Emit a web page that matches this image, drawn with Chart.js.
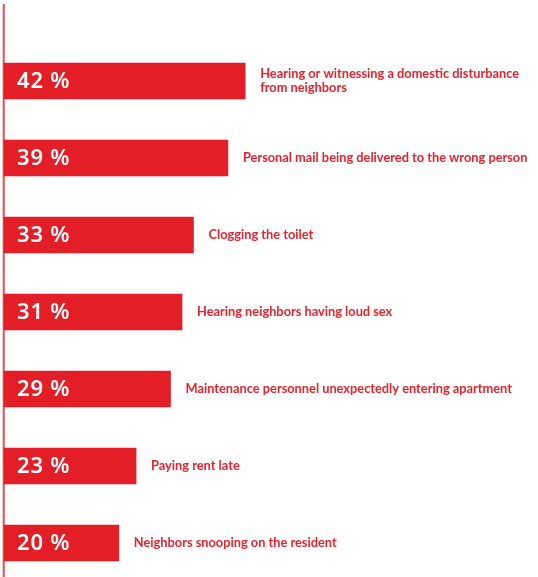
<!DOCTYPE html>
<html>
<head>
<meta charset="utf-8">
<script src="https://cdn.jsdelivr.net/npm/chart.js@4/dist/chart.umd.min.js"></script>
<style>
html,body{margin:0;padding:0;background:#fff;overflow:hidden;}
#wrap{width:538px;height:577px;position:relative;}
</style>
</head>
<body>
<div id="wrap"><canvas id="c"></canvas></div>
<script>
const categories = [
  ["Hearing or witnessing a domestic disturbance", "from neighbors"],
  ["Personal mail being delivered to the wrong person"],
  ["Clogging the toilet"],
  ["Hearing neighbors having loud sex"],
  ["Maintenance personnel unexpectedly entering apartment"],
  ["Paying rent late"],
  ["Neighbors snooping on the resident"]
];
const values = [42, 39, 33, 31, 29, 23, 20];
const valueLabels = ["42 %", "39 %", "33 %", "31 %", "29 %", "23 %", "20 %"];

const RED = '#e31e26';
const TEXT_RED = '#e8232d';

const labelPlugin = {
  id: 'labels',
  beforeDatasetsDraw(chart) {
    const ctx = chart.ctx;
    const area = chart.chartArea;
    ctx.save();
    ctx.strokeStyle = '#ea4a50';
    ctx.lineWidth = 2;
    ctx.beginPath();
    ctx.moveTo(area.left - 0.3, 4);
    ctx.lineTo(area.left - 0.3, chart.height);
    ctx.stroke();
    ctx.restore();
  },
  afterDatasetsDraw(chart) {
    const ctx = chart.ctx;
    const meta = chart.getDatasetMeta(0);
    ctx.save();
    meta.data.forEach((bar, i) => {
      ctx.fillStyle = '#ffffff';
      ctx.font = '600 22px "Noto Sans"';
      ctx.textBaseline = 'middle';
      ctx.textAlign = 'left';
      if ('letterSpacing' in ctx) ctx.letterSpacing = '0.8px';
      ctx.fillText(valueLabels[i], bar.base + 13, bar.y + 1);
      if ('letterSpacing' in ctx) ctx.letterSpacing = '0px';
      ctx.fillStyle = TEXT_RED;
      ctx.font = '700 12.8px Lato';
      const lines = categories[i];
      const lh = 14.5;
      const startY = bar.y - (lines.length - 1) * lh / 2;
      lines.forEach((ln, j) => {
        ctx.fillText(ln, bar.x + 15, startY + j * lh);
      });
    });
    ctx.restore();
  }
};

new Chart(document.getElementById('c'), {
  type: 'bar',
  data: {
    labels: categories.map(c => c.join(' ')),
    datasets: [{
      data: values,
      backgroundColor: RED,
      borderWidth: 0,
      barThickness: 36,
      clip: false
    }]
  },
  options: {
    indexAxis: 'y',
    responsive: true,
    maintainAspectRatio: false,
    animation: false,
    layout: { padding: { left: 4, right: 0, top: 81, bottom: 34 } },
    scales: {
      x: { display: false, min: 0, max: 93 },
      y: { display: false, offset: false }
    },
    plugins: { legend: { display: false }, tooltip: { enabled: false } }
  },
  plugins: [labelPlugin]
});
</script>
</body>
</html>
